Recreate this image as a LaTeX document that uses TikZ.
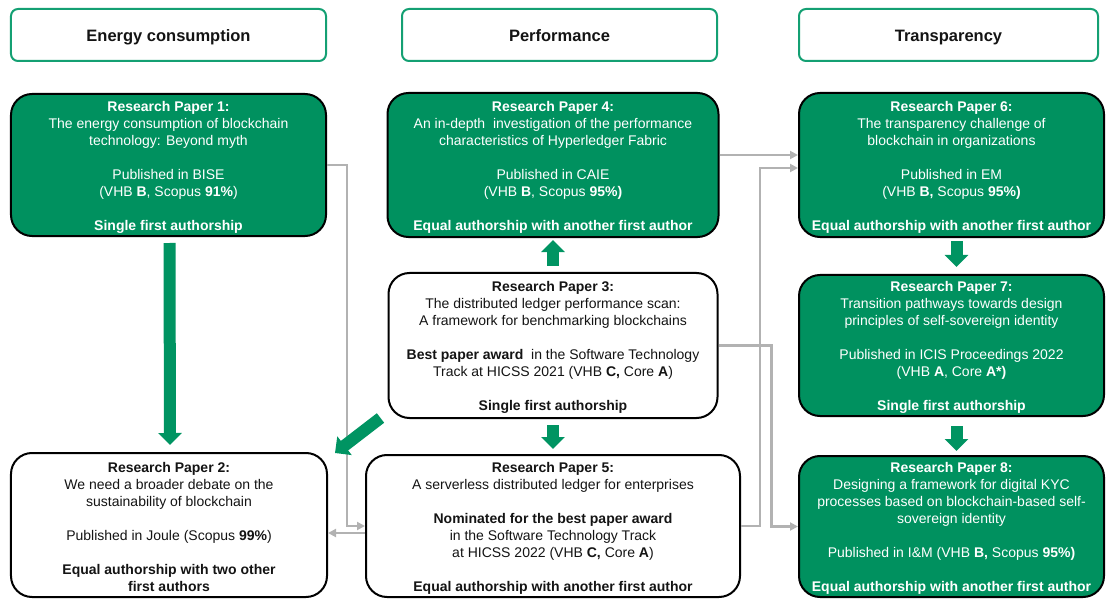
\documentclass[tikz,border=0pt]{standalone}
\usepackage{fontspec}
\setmainfont{Liberation Sans}
\usetikzlibrary{arrows.meta}
\definecolor{hgreen}{RGB}{20,160,115}
\definecolor{pgreen}{RGB}{0,145,95}
\definecolor{agreen}{RGB}{0,148,98}
\definecolor{lgray}{RGB}{178,178,178}
\definecolor{ink}{RGB}{20,20,20}
\newcommand\toprow{\rule{0pt}{14bp}}
\tikzset{
  header/.style={draw=hgreen, line width=2bp, rounded corners=7bp, fill=white,
    minimum height=52bp, inner sep=0pt, text=ink, text height=15bp, text depth=2bp,
    font=\fontsize{16.5bp}{20bp}\selectfont\bfseries},
  paper/.style={draw=black, line width=2bp, rounded corners=21bp, align=center,
    inner sep=0pt, font=\fontsize{14bp}{17bp}\selectfont},
  greenpaper/.style={paper, fill=pgreen, text=white},
  whitepaper/.style={paper, fill=white, text=ink},
  garrow/.style={draw=agreen, line width=12bp, -{Triangle[length=12bp,width=23bp]}},
  glink/.style={draw=lgray, line width=2.2bp, -{Triangle[length=8bp,width=8bp]}},
}
\begin{document}
\begin{tikzpicture}[x=1bp,y=-1bp]
\useasboundingbox (0,0) rectangle (1106,599);

% column headers
\node[header, minimum width=315bp] (h1) at (168.5,35) {Energy consumption};
\node[header, minimum width=315bp] (h2) at (559.5,35) {Performance};
\node[header, minimum width=299bp] (h3) at (948.5,35) {Transparency};

% research papers
\node[greenpaper, minimum width=315bp, minimum height=142bp] (p1) at (168.5,165)
  {\toprow\textbf{Research Paper 1:}\\The energy consumption of blockchain\\technology: Beyond myth\\[17bp]Published in BISE\\(VHB \textbf{B}, Scopus \textbf{91\%})\\[17bp]\textbf{Single first authorship}};

\node[whitepaper, minimum width=316bp, minimum height=144bp] (p2) at (169,525)
  {\toprow\textbf{Research Paper 2:}\\We need a broader debate on the\\sustainability of blockchain\\[17bp]Published in Joule (Scopus \textbf{99\%})\\[17bp]\textbf{Equal authorship with two other}\\\textbf{first authors}};

\node[whitepaper, minimum width=329bp, minimum height=145bp] (p3) at (553,345.5)
  {\toprow\textbf{Research Paper 3:}\\The distributed ledger performance scan:\\A framework for benchmarking blockchains\\[17bp]\textbf{Best paper award}\ \ in the Software Technology\\Track at HICSS 2021 (VHB \textbf{C,} Core \textbf{A})\\[17bp]\textbf{Single first authorship}};

\node[greenpaper, minimum width=331bp, minimum height=144bp] (p4) at (553,165)
  {\toprow\textbf{Research Paper 4:}\\An in-depth\ \ investigation of the performance\\characteristics of Hyperledger Fabric\\[17bp]Published in CAIE\\(VHB \textbf{B}, Scopus \textbf{95\%)}\\[17bp]\textbf{Equal authorship with another first author}};

\node[whitepaper, minimum width=374bp, minimum height=142bp] (p5) at (553,526)
  {\toprow\textbf{Research Paper 5:}\\A serverless distributed ledger for enterprises\\[17bp]\textbf{Nominated for the best paper award}\\in the Software Technology Track\\at HICSS 2022 (VHB \textbf{C,} Core \textbf{A})\\[17bp]\textbf{Equal authorship with another first author}};

\node[greenpaper, minimum width=305bp, minimum height=144bp] (p6) at (951.5,165)
  {\toprow\textbf{Research Paper 6:}\\The transparency challenge of\\blockchain in organizations\\[17bp]Published in EM\\(VHB \textbf{B,} Scopus \textbf{95\%)}\\[17bp]\textbf{Equal authorship with another first author}};

\node[greenpaper, minimum width=305bp, minimum height=141bp] (p7) at (951.5,345.5)
  {\toprow\textbf{Research Paper 7:}\\Transition pathways towards design\\principles of self-sovereign identity\\[17bp]Published in ICIS Proceedings 2022\\(VHB \textbf{A}, Core \textbf{A*)}\\[17bp]\textbf{Single first authorship}};

\node[greenpaper, minimum width=305bp, minimum height=141bp] (p8) at (951.5,526.5)
  {\toprow\textbf{Research Paper 8:}\\Designing a framework for digital KYC\\processes based on blockchain-based self-\\sovereign identity\\[17bp]Published in I\&M (VHB \textbf{B,} Scopus \textbf{95\%)}\\[17bp]\textbf{Equal authorship with another first author}};

% grey references between papers
\draw[glink] (p1.east) -- ++(20,0) |- (p5.west);
\draw[glink] ([yshift=-7bp]p5.west) -- ([yshift=-7bp]p5.west -| p2.east);
\draw[glink] ([yshift=10bp]p4.east) -- ([yshift=10bp]p4.east -| p6.west);
\draw[glink] (p5.east) -- ++(19,0) |- ([yshift=-3bp]p6.west);
\draw[glink] (p3.east) -- ++(53,0) |- (p8.west);

% green sequence arrows
\draw[garrow] ([xshift=1bp,yshift=-6bp]p1.south) -- ([xshift=1bp,yshift=7bp]p2.north);
\draw[garrow] ([yshift=6bp]p3.north) -- ([yshift=-2bp]p4.south);
\draw[garrow] ([yshift=-6bp]p3.south) -- ([yshift=5bp]p5.north);
\draw[garrow] ([xshift=-7bp,yshift=1bp]p3.south west) -- ([xshift=7bp,yshift=-1bp]p2.north east);
\draw[garrow] ([xshift=5bp,yshift=-3bp]p6.south) -- ([xshift=5bp,yshift=7bp]p7.north);
\draw[garrow] ([xshift=5bp,yshift=-9bp]p7.south) -- ([xshift=5bp,yshift=4bp]p8.north);
\end{tikzpicture}
\end{document}
